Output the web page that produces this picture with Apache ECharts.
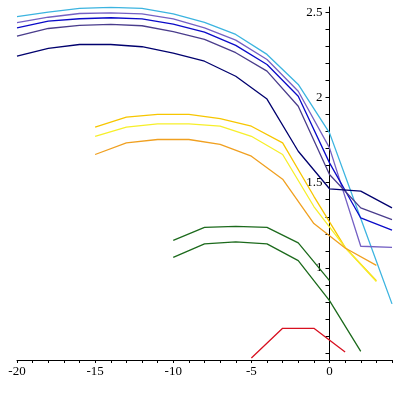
<!DOCTYPE html>
<html>
<head>
<meta charset="utf-8">
<script src="https://cdn.jsdelivr.net/npm/echarts@6/dist/echarts.min.js"></script>
<style>
html,body{margin:0;padding:0;background:#fff;}
#main{width:400px;height:400px;}
</style>
</head>
<body>
<div id="main"></div>
<script>
// x positions
var xEven = [-20,-18,-16,-14,-12,-10,-8,-6,-4,-2,0,2,4];
var xOdd = [-15,-13,-11,-9,-7,-5,-3,-1,1,3];
var xGreen = [-10,-8,-6,-4,-2,0,2];
var xRed = [-5,-3,-1,1];

// blue family
var cyanY  = [2.473,2.500,2.522,2.528,2.522,2.490,2.440,2.369,2.252,2.076,1.792,1.290,0.789];
var purpY  = [2.438,2.470,2.492,2.496,2.490,2.460,2.408,2.336,2.222,2.036,1.704,1.127,1.120];
var blueY  = [2.408,2.447,2.461,2.467,2.460,2.430,2.383,2.305,2.193,2.007,1.616,1.293,1.222];
var slateY = [2.359,2.404,2.422,2.428,2.420,2.385,2.340,2.262,2.154,1.948,1.548,1.352,1.283];
var navyY  = [2.242,2.287,2.310,2.310,2.297,2.259,2.212,2.124,1.990,1.684,1.464,1.450,1.352];

// yellow / orange
var goldY   = [1.825,1.884,1.900,1.900,1.876,1.831,1.733,1.420,1.120,0.925];
var yellowY = [1.772,1.825,1.845,1.845,1.831,1.772,1.665,1.360,1.120,0.920];
var orangeY = [1.665,1.733,1.753,1.753,1.724,1.655,1.520,1.260,1.117,1.015];

// green / red
var greenAY = [1.162,1.238,1.244,1.238,1.147,0.925];
var greenBY = [1.062,1.141,1.153,1.141,1.043,0.808,0.511];
var redY    = [0.472,0.646,0.646,0.507];

// axis ticks
var xLabels = [-20,-15,-10,-5,0];
var xTicks = [];
for (var i = -20; i <= 4; i++) xTicks.push(i);
var yLabels = [1,1.5,2,2.5];
var yTicks = [0.5,0.6,0.7,0.8,0.9,1,1.1,1.2,1.3,1.4,1.5,1.6,1.7,1.8,1.9,2,2.1,2.2,2.3,2.4,2.5];

function pairs(xs, ys){
	var out = [];
	for (var i = 0; i < ys.length; i++) out.push([xs[i], ys[i]]);
	return out;
}
function line(xs, ys, color){
	return {
		type: 'line',
		data: pairs(xs, ys),
		showSymbol: false,
		symbol: 'none',
		lineStyle: { color: color, width: 1.3 },
		silent: true
	};
}

var font = 'Liberation Serif';
var option = {
	animation: false,
	grid: { left: 17, right: 8, top: 7, bottom: 40 },
	xAxis: {
		type: 'value',
		min: -20,
		max: 4,
		splitLine: { show: false },
		axisLine: { lineStyle: { color: '#000', width: 1 } },
		axisTick: { customValues: xTicks, length: 3, lineStyle: { color: '#000' } },
		axisLabel: { customValues: xLabels, color: '#000', fontFamily: font, fontSize: 13, margin: 5 }
	},
	yAxis: {
		type: 'value',
		min: 0.46,
		max: 2.53,
		position: 'left',
		offset: -312.5,   // put the axis at x = 0
		splitLine: { show: false },
		axisLine: { onZero: false, lineStyle: { color: '#000', width: 1 } },
		axisTick: { customValues: yTicks, length: 4, lineStyle: { color: '#000' } },
		axisLabel: { customValues: yLabels, color: '#000', fontFamily: font, fontSize: 13, margin: 7 }
	},
	series: [
		line(xEven, cyanY, '#3cb4e0'),
		line(xEven, purpY, '#7460c4'),
		line(xEven, blueY, '#0a0ac8'),
		line(xEven, slateY, '#4a3d8c'),
		line(xEven, navyY, '#00006e'),
		line(xOdd, goldY, '#f7c600'),
		line(xOdd, yellowY, '#f7ef2a'),
		line(xOdd, orangeY, '#f0a020'),
		line(xGreen, greenAY, '#1c6a1c'),
		line(xGreen, greenBY, '#1c6a1c'),
		line(xRed, redY, '#d81020')
	]
};
echarts.init(document.getElementById('main')).setOption(option);
</script>
</body>
</html>
